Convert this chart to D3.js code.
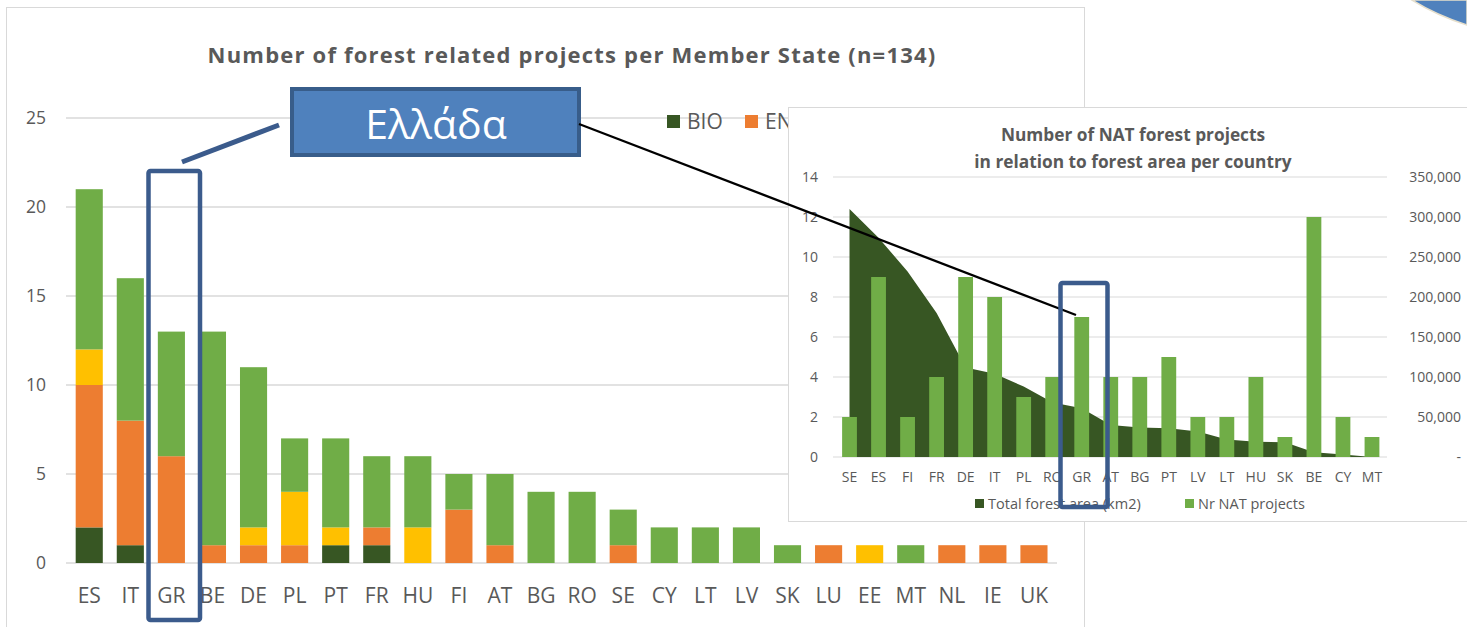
<!DOCTYPE html>
<html>
<head>
<meta charset="utf-8">
<script src="https://cdn.jsdelivr.net/npm/d3@7"></script>
<style>
  html, body { margin: 0; padding: 0; background: #ffffff; }
  svg { display: block; }
  text { font-family: "Open Sans", "Noto Sans", sans-serif; }
</style>
</head>
<body>
<svg id="chart" width="1467" height="627"></svg>
<script>
// ---------- main chart data ----------
const mainTitle = "Number of forest related projects per Member State (n=134)";
const countries = ["ES","IT","GR","BE","DE","PL","PT","FR","HU","FI","AT","BG","RO","SE","CY","LT","LV","SK","LU","EE","MT","NL","IE","UK"];
const bio = [2,1,0,0,0,0,1,1,0,0,0,0,0,0,0,0,0,0,0,0,0,0,0,0];
const env = [8,7,6,1,1,1,0,1,0,3,1,0,0,1,0,0,0,0,1,0,0,1,1,1];
const inf = [2,0,0,0,1,3,1,0,2,0,0,0,0,0,0,0,0,0,0,1,0,0,0,0];
const nat = [9,8,7,12,9,3,5,4,4,2,4,4,4,2,2,2,2,1,0,0,1,0,0,0];
const seriesKeys = ["BIO","ENV","INF","NAT"];
const seriesColors = ["#375623","#ED7D31","#FFC000","#70AD47"];
const mainTicks = [0,5,10,15,20,25];

// ---------- inset chart data ----------
const insetTitle = ["Number of NAT forest projects","in relation to forest area per country"];
const insetCountries = ["SE","ES","FI","FR","DE","IT","PL","RO","GR","AT","BG","PT","LV","LT","HU","SK","BE","CY","MT"];
const forestArea = [310000,274000,232000,180000,112000,104000,88000,68000,61000,40000,37000,36000,32000,22000,19000,18500,6000,3000,0];
const natProjects = [2,9,2,4,9,8,3,4,7,4,4,5,2,2,4,1,12,2,1];
const insetLeftTicks = [0,2,4,6,8,10,12,14];
const insetRightTicks = [0,50000,100000,150000,200000,250000,300000,350000];
const insetLegend = ["Total forest area (km2)","Nr NAT projects"];
const calloutLabel = "Ελλάδα";

const svg = d3.select("#chart");
const TXT = "#595959", GRID = "#d9d9d9";

// corner decoration
svg.append("path")
  .attr("d","M1412,0 Q1436,15 1467,25 L1467,0 Z")
  .attr("fill","#4F81BD").attr("stroke","#e6dfcc").attr("stroke-width",1.5);

// main frame
svg.append("rect").attr("x",6.5).attr("y",7.5).attr("width",1078).attr("height",700)
  .attr("fill","#fff").attr("stroke",GRID);

// main title
svg.append("text").attr("x",572).attr("y",63).attr("text-anchor","middle")
  .attr("font-size",22).attr("font-weight","bold").attr("letter-spacing",1.2)
  .attr("fill",TXT).text(mainTitle);

const x = d3.scaleBand().domain(countries).range([68.7,1054.5]).paddingInner(0.34).paddingOuter(0.17);
const y = d3.scaleLinear().domain([0,25]).range([563,118]);

// gridlines
svg.append("g").selectAll("line").data(mainTicks).join("line")
  .attr("x1",66).attr("x2",1057).attr("y1",d=>y(d)).attr("y2",d=>y(d))
  .attr("stroke",GRID).attr("stroke-width",1.3);

// y axis labels
const yAxis = svg.append("g").attr("transform","translate(56,0)")
  .call(d3.axisLeft(y).tickValues(mainTicks).tickSize(0).tickPadding(10));
yAxis.select(".domain").remove();
yAxis.selectAll("text").attr("font-size",17.5).attr("fill",TXT).attr("font-family","Open Sans");

// x axis labels
const xAxis = svg.append("g").attr("transform","translate(0,585)")
  .call(d3.axisBottom(x).tickSize(0).tickPadding(0));
xAxis.select(".domain").remove();
xAxis.selectAll("text").attr("font-size",21).attr("fill",TXT).attr("dy","0.85em").attr("font-family","Open Sans");

// stacked bars
const rows = countries.map((c,i)=>({c, BIO:bio[i], ENV:env[i], INF:inf[i], NAT:nat[i]}));
const stacked = d3.stack().keys(seriesKeys)(rows);
svg.append("g").selectAll("g").data(stacked).join("g")
  .attr("fill",(d,i)=>seriesColors[i])
  .selectAll("rect").data(d=>d.filter(p=>p[1]>p[0])).join("rect")
  .attr("x",d=>x(d.data.c)).attr("width",x.bandwidth())
  .attr("y",d=>y(d[1])).attr("height",d=>y(d[0])-y(d[1]));

// main legend
const leg = svg.append("g");
const legX = [667,745,838,922];
seriesKeys.forEach((k,i)=>{
  leg.append("rect").attr("x",legX[i]).attr("y",115).attr("width",13).attr("height",13).attr("fill",seriesColors[i]);
  leg.append("text").attr("x",legX[i]+20).attr("y",129).attr("font-size",21).attr("fill",TXT).text(k);
});

// ---------- inset ----------
svg.append("rect").attr("x",788.5).attr("y",107.5).attr("width",720).attr("height",414)
  .attr("fill","#fff").attr("stroke",GRID);

insetTitle.forEach((t,i)=>{
  svg.append("text").attr("x",1133).attr("y",141+i*27).attr("text-anchor","middle")
    .attr("font-size",17.3).attr("font-weight","bold").attr("fill",TXT).text(t);
});

const xi = d3.scaleBand().domain(insetCountries).range([835,1386.5]).paddingInner(0.49).paddingOuter(0.245);
const yl = d3.scaleLinear().domain([0,14]).range([457,177]);
const yr = d3.scaleLinear().domain([0,350000]).range([457,177]);

svg.append("g").selectAll("line").data(insetLeftTicks).join("line")
  .attr("x1",833).attr("x2",1387).attr("y1",d=>yl(d)).attr("y2",d=>yl(d))
  .attr("stroke",GRID).attr("stroke-width",1.2);

const lAxis = svg.append("g").attr("transform","translate(826,0)")
  .call(d3.axisLeft(yl).tickValues(insetLeftTicks).tickSize(0).tickPadding(8));
lAxis.select(".domain").remove();
lAxis.selectAll("text").attr("font-size",14).attr("fill",TXT).attr("font-family","Open Sans");

const rAxis = svg.append("g").attr("transform","translate(1461,0)")
  .call(d3.axisLeft(yr).tickValues(insetRightTicks).tickSize(0).tickPadding(0)
    .tickFormat(d=> d===0 ? "-      " : d3.format(",")(d)));
rAxis.select(".domain").remove();
rAxis.selectAll("text").attr("font-size",14).attr("fill",TXT).attr("font-family","Open Sans");

// area
const cx = c => xi(c) + xi.bandwidth()/2;
const areaGen = d3.area().x((d,i)=>cx(insetCountries[i])).y0(yr(0)).y1(d=>yr(d));
svg.append("path").datum(forestArea).attr("d",areaGen).attr("fill","#375623");

// bars
svg.append("g").selectAll("rect").data(natProjects).join("rect")
  .attr("x",(d,i)=>xi(insetCountries[i])).attr("width",xi.bandwidth())
  .attr("y",d=>yl(d)).attr("height",d=>yl(0)-yl(d)).attr("fill","#70AD47");

const iAxis = svg.append("g").attr("transform","translate(0,469)")
  .call(d3.axisBottom(xi).tickSize(0).tickPadding(0));
iAxis.select(".domain").remove();
iAxis.selectAll("text").attr("font-size",14).attr("fill",TXT).attr("dy","0.9em").attr("font-family","Open Sans");

// inset legend
const il = [[975,"#375623"],[1185,"#70AD47"]];
insetLegend.forEach((t,i)=>{
  svg.append("rect").attr("x",il[i][0]).attr("y",499).attr("width",9).attr("height",9).attr("fill",il[i][1]);
  svg.append("text").attr("x",il[i][0]+13).attr("y",509).attr("font-size",14.5).attr("fill",TXT).text(t);
});

// ---------- annotations ----------
const BLUE = "#3B5B8C";
svg.append("line").attr("x1",182).attr("y1",162).attr("x2",279).attr("y2",125)
  .attr("stroke",BLUE).attr("stroke-width",5);
svg.append("rect").attr("x",148.5).attr("y",171).attr("width",51.5).attr("height",449).attr("rx",2)
  .attr("fill","none").attr("stroke",BLUE).attr("stroke-width",4.5);
svg.append("rect").attr("x",292).attr("y",89).attr("width",287).attr("height",66)
  .attr("fill","#4F81BD").attr("stroke","#385D8A").attr("stroke-width",4);
svg.append("text").attr("x",436).attr("y",139).attr("text-anchor","middle")
  .attr("font-size",41).attr("fill","#ffffff").attr("font-family","Open Sans").text(calloutLabel);
svg.append("line").attr("x1",579).attr("y1",124).attr("x2",1076).attr("y2",315)
  .attr("stroke","#000").attr("stroke-width",2.3);
svg.append("rect").attr("x",1060.5).attr("y",283).attr("width",47).attr("height",224).attr("rx",2)
  .attr("fill","none").attr("stroke",BLUE).attr("stroke-width",4.5);
</script>
</body>
</html>
